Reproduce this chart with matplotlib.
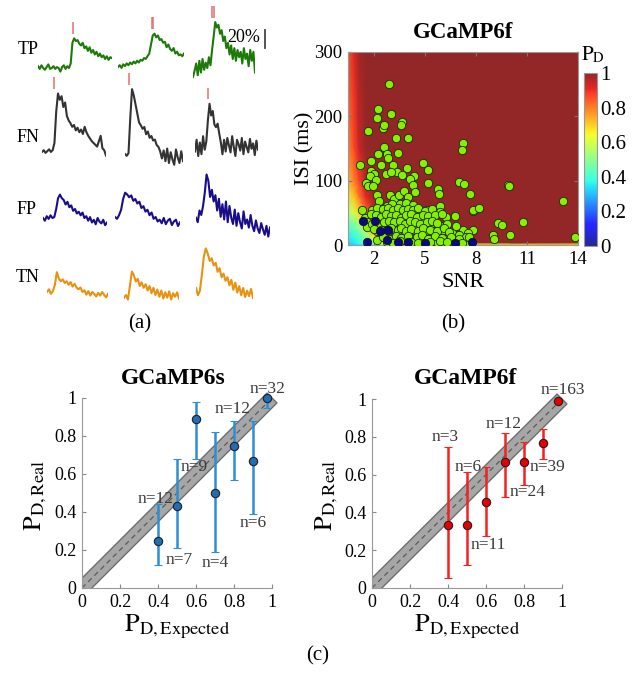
import numpy as np
import matplotlib
matplotlib.use('Agg')
import matplotlib.pyplot as plt
from matplotlib.colors import ListedColormap
from matplotlib.patches import Polygon, Rectangle

plt.rcParams['font.family'] = ['Liberation Serif', 'DejaVu Serif']
plt.rcParams['mathtext.fontset'] = 'stix'

# ---------------- data: panel (a) example traces (dF/F, %) ----------------
tp1 = [2,-1,3,0,-2,1,4,-1,0,2,-1,1,0,-4,1,3,-1,2,0,5,28,33,30,31,27,25,28,22,24,19,23,17,20,15,18,13,16,12,14,10,13,9,12,11]
tp2 = [0,2,-1,3,1,4,2,5,3,6,4,7,5,8,7,10,9,12,15,25,35,37,33,35,30,31,27,28,22,25,20,18,21,15,17,13,14,12,15]
tp3 = [-10,-3,5,-8,8,-5,10,-2,6,0,12,3,20,35,51,45,48,38,42,30,35,22,28,15,25,10,22,8,20,12,18,5,22,10,16,2,20,8,18,-5]
fn1 = [0,2,-1,1,3,0,2,10,45,65,58,62,50,55,40,35,32,28,30,24,27,22,25,20,28,22,18,15,12,10,8,6,12,18,4,2,-4]
fn2 = [0,-2,1,40,72,65,55,45,35,32,28,30,22,25,18,20,15,16,10,8,3,-5,4,-8,6,-10,2,-6,-12,5,-4,-10,3,-8]
fn3 = [-5,8,-10,5,-8,12,-3,6,30,48,35,40,25,22,26,15,5,-8,8,-5,10,2,-6,12,0,-10,8,3,-4,10,-8,6,0,-6,9,-2,4,-9,7,-3]
fp1 = [0,-3,2,-1,3,0,1,10,22,26,22,20,15,18,12,14,8,10,5,7,3,6,0,2,-3,1,-5,-2,-7,0,-4,-6,-2,-8,-5]
fp2 = [0,-2,2,8,20,27,25,22,24,18,20,15,17,10,12,6,8,2,5,-2,0,-5,-3,-7,-1,-8,-4,-2,-9,-5,-3,-10,-6]
fp3 = [-3,-8,5,0,10,25,45,38,20,28,15,22,5,18,-2,12,-5,15,-8,10,-3,-10,6,-12,2,-8,-15,4,-10,-5,-14,0,-12,-18,-6,-15,-20,-9,-16,-22,-12,-24,-14]
tn1 = [0,3,-2,1,8,22,15,12,14,10,12,8,11,6,9,5,3,5,0,2,-3,1,-4,0,-2,-5,-1,-4,0,-3,-6,-2]
tn2 = [-3,0,-5,10,26,22,15,18,10,14,8,12,5,10,2,8,0,6,-2,5,-4,3,-3,4,-5,2,-2,3,-4]
tn3 = [0,-8,-3,15,35,44,38,30,33,25,28,18,22,12,16,8,12,3,9,-2,6,-5,2,-8,0,-10,-3,-9,-1,-11]
# spike times (sample index) for traces with detected/true spikes
tp1_spk = [20.2]
tp2_spk = [19.4, 20.4]
tp3_spk = [12.0, 12.9]
fn1_spk = [6.8]
fn2_spk = [2.4]
fn3_spk = [7.8]
row_names = ['TP', 'FN', 'FP', 'TN']
scale_pct = 20

# ---------------- data: panel (b) ----------------
snr_grid = [0.0, 0.8, 1.1, 1.5, 2.0, 2.5, 3.0, 4.0, 6.0, 14.0]
isi_grid = [0, 4, 10, 20, 35, 50, 75, 100, 150, 300]
P_grid = [
    [0.30, 0.32, 0.35, 0.38, 0.42, 0.48, 0.52, 0.58, 0.62, 0.65],
    [0.30, 0.35, 0.38, 0.43, 0.52, 0.66, 0.82, 0.96, 1.00, 1.00],
    [0.32, 0.37, 0.40, 0.47, 0.60, 0.78, 0.92, 1.00, 1.00, 1.00],
    [0.35, 0.41, 0.45, 0.55, 0.74, 0.90, 0.98, 1.00, 1.00, 1.00],
    [0.40, 0.48, 0.55, 0.68, 0.87, 0.97, 1.00, 1.00, 1.00, 1.00],
    [0.48, 0.60, 0.68, 0.81, 0.95, 1.00, 1.00, 1.00, 1.00, 1.00],
    [0.58, 0.71, 0.80, 0.91, 0.99, 1.00, 1.00, 1.00, 1.00, 1.00],
    [0.66, 0.79, 0.87, 0.96, 1.00, 1.00, 1.00, 1.00, 1.00, 1.00],
    [0.72, 0.86, 0.94, 0.99, 1.00, 1.00, 1.00, 1.00, 1.00, 1.00],
    [0.77, 0.92, 0.98, 1.00, 1.00, 1.00, 1.00, 1.00, 1.00, 1.00],
]
det_pts = [(2.9,250),(2.22,212),(2.16,197),(2.98,203),(2.51,182),(2.59,187),(1.63,177),(3.63,191),(3.57,186),
    (3.29,167),(3.98,167),(7.25,158),(7.2,147),(2.59,153),(3.43,143),(2.78,141),(2.22,141),(2.84,135),(1.18,124),
    (1.84,130),(2.41,125),(3.1,124),(4.86,128),(5.2,117),(3.96,119),(1.8,115),(2.02,111),(2.71,110),(3.33,114),
    (3.67,109),(4.37,108),(4.12,102),(3.0,113),(1.76,108),(2.12,101),(1.53,96),(1.67,92),(1.92,92),(4.31,93),
    (7.02,98),(7.31,95),(9.9,93),(9.96,92),(5.2,96),(2.16,78),(2.94,78),(3.2,72),(3.49,78),(3.78,84),(4.02,75),
    (4.41,83),(5.78,87),(5.84,79),(7.65,79),(13.1,68),(2.31,68),(2.78,61),(3.06,63),(3.53,63),(3.88,65),(4.31,62),
    (7.84,53),(7.8,55),(8.18,57),(1.27,54),(2.06,52),(2.35,50),(5.88,61),(5.88,52),(6.22,44),(6.78,45),(1.47,42),
    (1.57,36),(5.1,54),(4.7,54),(5.3,41),(4.8,39),(4.31,44),(3.63,44),(2.94,47),(2.65,39),(2.22,36),(2.35,26),
    (2.94,28),(3.53,31),(4.12,34),(4.61,28),(5.49,34),(5.84,31),(6.08,23),(6.57,18),(7.25,23),(7.84,23),(7.55,18),
    (9.31,34),(9.51,31),(10.78,35),(10.0,16),(8.98,16),(9.08,9),(13.82,13),(2.16,8),(2.75,5),(3.24,13),(3.73,8),
    (4.31,10),(4.9,8),(5.39,13),(5.69,5),(6.27,9),(6.86,8),(7.45,5),(2.16,21),(2.71,18),(3.24,23),(3.82,18),
    (4.41,23),(5.0,21),(5.55,18),(1.57,28),
    (1.9,55),(2.2,58),(2.5,56),(2.8,57),(3.1,55),(3.4,57),(3.7,54),(4.0,56),(4.3,55),(4.6,57),(5.0,53),(5.4,56),
    (1.8,48),(2.1,46),(2.4,44),(2.7,48),(3.0,45),(3.3,47),(3.6,42),(3.9,46),(4.2,48),(4.5,44),(4.9,47),(5.2,45),
    (5.6,46),(6.0,48),(1.9,32),(2.3,33),(2.6,36),(2.9,38),(3.2,35),(3.5,37),(3.8,33),(4.1,38),(4.4,35),(4.7,33),
    (5.1,36),(5.4,38),(5.7,34),(6.3,33),(6.8,30),(2.0,25),(2.4,24),(2.8,22),(3.0,26),(3.4,24),(3.6,27),(3.9,22),
    (4.2,25),(4.6,21),(4.9,26),(5.3,24),(5.7,22),(6.1,26),(6.4,20),(7.0,16),(7.4,12),(2.5,12),(2.9,10),(3.3,14),
    (3.6,11),(4.0,14),(4.5,12),(4.8,15),(5.2,10),(5.6,14),(6.0,11),(6.5,13),(7.0,10),(7.6,12),(3.1,3),(3.5,6),
    (4.2,4),(4.6,3),(5.3,4),(5.9,6),(6.3,4),(7.2,3)]
miss_pts = [(1.37,37),(2.06,38),(1.57,5),(2.35,21),(2.84,23),(2.75,8),(3.43,5),(4.0,4),(5.0,3),(6.76,3),(7.75,5)]
det_snr = [p[0] for p in det_pts]
det_isi = [p[1] for p in det_pts]
miss_snr = [p[0] for p in miss_pts]
miss_isi = [p[1] for p in miss_pts]

# ---------------- data: panel (c) ----------------
s_x = [0.4, 0.5, 0.6, 0.7, 0.8, 0.9, 0.975]
s_y = [0.25, 0.43, 0.89, 0.50, 0.75, 0.67, 1.0]
s_lo = [0.12, 0.21, 0.68, 0.19, 0.57, 0.39, 0.95]
s_hi = [0.44, 0.68, 0.98, 0.82, 0.88, 0.88, 1.0]
s_n = ['n=12', 'n=7', 'n=9', 'n=4', 'n=12', 'n=6', 'n=32']
s_npos = [(0.387, 0.47), (0.51, 0.145), (0.59, 0.637), (0.70, 0.133), (0.79, 0.94), (0.90, 0.34), (0.975, 1.045)]
f_x = [0.4, 0.5, 0.6, 0.7, 0.8, 0.9, 0.977]
f_y = [0.333, 0.333, 0.455, 0.665, 0.665, 0.768, 0.99]
f_lo = [0.055, 0.12, 0.275, 0.483, 0.545, 0.68, 0.99]
f_hi = [0.744, 0.612, 0.642, 0.818, 0.77, 0.84, 0.99]
f_n = ['n=3', 'n=6', 'n=11', 'n=12', 'n=24', 'n=39', 'n=163']
f_npos = [(0.384, 0.797), (0.504, 0.642), (0.614, 0.227), (0.695, 0.866), (0.82, 0.506), (0.925, 0.642), (1.005, 1.05)]

# ---------------- figure ----------------
W, H = 636, 673
fig = plt.figure(figsize=(W / 100, H / 100), dpi=100)

def rect(x0, y0, x1, y1):
    return [x0 / W, 1 - y1 / H, (x1 - x0) / W, (y1 - y0) / H]

def ftext(x, y, s, **kw):
    kw.setdefault('ha', 'center')
    kw.setdefault('va', 'center')
    return fig.text(x / W, 1 - y / H, s, **kw)

# ---- panel (a) ----
traces = [[tp1, tp2, tp3], [fn1, fn2, fn3], [fp1, fp2, fp3], [tn1, tn2, tn3]]
spikes = [[tp1_spk, tp2_spk, tp3_spk], [fn1_spk, fn2_spk, fn3_spk], [None] * 3, [None] * 3]
colors = ['#1c7a06', '#333333', '#1a0d8c', '#e8920f']
places = [[(38, 112, 68), (118, 184, 67), (193, 255, 68)],
          [(42, 106, 152), (125, 183, 154), (195, 258, 147)],
          [(43, 107, 218), (115, 180, 217), (196, 270, 215)],
          [(47, 108, 292), (124, 179, 295), (196, 253, 288)]]
label_pos = [(28, 49), (28, 137), (27, 210), (28, 277)]
PXPCT = 0.9  # pixels per percent
for r in range(4):
    ftext(*label_pos[r], row_names[r], fontsize=13)
    for c in range(3):
        x0, x1, yb = places[r][c]
        ax = fig.add_axes(rect(x0, yb - 100, x1, yb + 40))
        ax.set_axis_off()
        ax.patch.set_alpha(0)
        tr = traces[r][c]
        ax.plot(np.arange(len(tr)), tr, color=colors[r], lw=1.5)
        ax.set_xlim(0, len(tr) - 1)
        ax.set_ylim(-40 / PXPCT, 100 / PXPCT)
        sp = spikes[r][c]
        if sp:
            lo = max(tr) + 5
            ax.vlines(sp, lo, lo + 13, color='#e07070', lw=1.1)
        if r == 0 and c == 2:
            xb = (265 - x0) / (x1 - x0) * (len(tr) - 1)
            ax.plot([xb, xb], [22, 22 + scale_pct], color='#444444', lw=1.3, clip_on=False)
ftext(244, 38, '%d%%' % scale_pct, fontsize=13)
ftext(140, 324, '(a)', fontsize=15)

# ---- panel (b) ----
jet_rgba = plt.cm.jet(np.linspace(0, 1, 256))
jet_rgba[:, :3] = jet_rgba[:, :3] * 0.85 + 0.15
cmap = ListedColormap(jet_rgba)
axb = fig.add_axes(rect(348, 52, 578, 245))
mesh = axb.pcolormesh(snr_grid, isi_grid, np.array(P_grid), shading='gouraud', cmap=cmap, vmin=0, vmax=1)
axb.scatter(det_snr, det_isi, s=36, c='#86f000', edgecolors='#1a2a00', linewidths=0.6, zorder=4)
axb.scatter(miss_snr, miss_isi, s=36, c='#0a0a80', edgecolors='#101030', linewidths=0.6, zorder=5)
axb.set_xlim(0.47, 14)
axb.set_ylim(0, 300)
axb.set_xticks([2, 5, 8, 11, 14])
axb.set_yticks([0, 100, 200, 300])
axb.tick_params(direction='in', top=True, right=True, length=3, labelsize=13.5, color='#777777', pad=4)
for s in axb.spines.values():
    s.set_color('#999999')
ftext(463, 33, 'GCaMP6f', fontsize=16.5, fontweight='bold')
ftext(463, 282, 'SNR', fontsize=16)
ftext(305, 148, 'ISI (ms)', fontsize=16, rotation=90)
cax = fig.add_axes(rect(584, 73, 597, 246))
cb = fig.colorbar(mesh, cax=cax, ticks=[0, 0.2, 0.4, 0.6, 0.8, 1])
cb.ax.set_yticklabels(['0', '0.2', '0.4', '0.6', '0.8', '1'])
cb.ax.tick_params(labelsize=15, length=0, pad=2)
cb.outline.set_edgecolor('#999999')
ftext(593, 55, r'$\mathrm{P}_{\mathrm{D}}$', fontsize=15)
ftext(453, 324, '(b)', fontsize=15)

# ---- panel (c) ----
def calib(box, title, tx, x, y, lo, hi, bcol, mcol, labels, lpos, ylab_x):
    ax = fig.add_axes(rect(*box))
    h = 0.026
    band = Polygon([(-h, h), (h, -h), (1 + h, 1 - h), (1 - h, 1 + h)], closed=True,
                   facecolor='#a6a6a6', edgecolor='#6e6e6e', lw=1.0, zorder=1)
    ax.add_patch(band)
    band.set_clip_path(Rectangle((0, 0), 1.3, 1.3, transform=ax.transData))
    ax.plot([0, 1], [0, 1], color='#5a5a5a', lw=0.9, dashes=(4, 3), zorder=2)
    y = np.array(y); lo = np.array(lo); hi = np.array(hi)
    cont = ax.errorbar(x, y, yerr=[y - lo, hi - y], fmt='o', ms=6, mfc=mcol, mec='#202020', mew=0.8,
                       ecolor=bcol, elinewidth=1.8, capsize=3, capthick=1.3, zorder=3)
    for art in cont.get_children():
        art.set_clip_on(False)
    for t, (px, py) in zip(labels, lpos):
        ax.text(px, py, t, fontsize=12.5, color='#3a3a3a', ha='center', va='center', zorder=5)
    ax.set_xlim(0, 1)
    ax.set_ylim(0, 1)
    ax.set_xticks([0, 0.2, 0.4, 0.6, 0.8, 1])
    ax.set_yticks([0, 0.2, 0.4, 0.6, 0.8, 1])
    ax.set_xticklabels(['0', '0.2', '0.4', '0.6', '0.8', '1'])
    ax.set_yticklabels(['0', '0.2', '0.4', '0.6', '0.8', '1'])
    ax.tick_params(direction='in', length=3, labelsize=13, color='#888888', pad=4)
    for k in ['top', 'right']:
        ax.spines[k].set_visible(False)
    for k in ['left', 'bottom']:
        ax.spines[k].set_color('#999999')
    cx = (box[0] + box[2]) / 2
    ftext(tx, 378, title, fontsize=17, fontweight='bold')
    ftext(cx, 627, r'$\mathrm{P}_{\mathrm{D,Expected}}$', fontsize=19)
    ftext(ylab_x, 495, r'$\mathrm{P}_{\mathrm{D,Real}}$', fontsize=19, rotation=90)
    return ax

calib((82, 398, 272, 588), 'GCaMP6s', 173, s_x, s_y, s_lo, s_hi, '#2c8fd6', '#1f6db4', s_n, s_npos, 36)
calib((372, 399, 562, 588), 'GCaMP6f', 466, f_x, f_y, f_lo, f_hi, '#f52020', '#e80000', f_n, f_npos, 327)
ftext(318, 656, '(c)', fontsize=15)

fig.savefig('out.png', dpi=100)
